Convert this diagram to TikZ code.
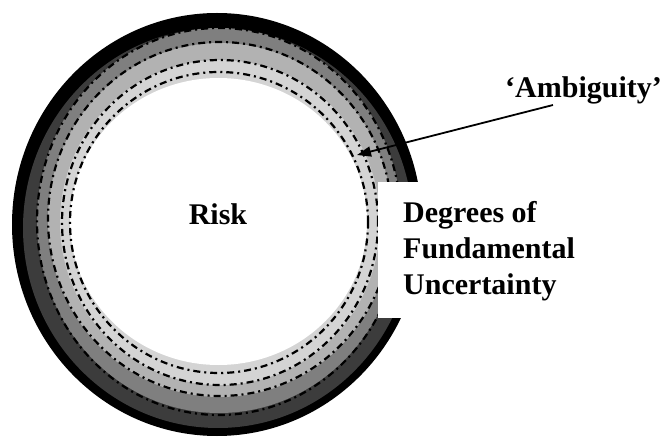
\documentclass[tikz,border=0pt]{standalone}
\usepackage{fontspec}
\setmainfont{Liberation Serif}
\usetikzlibrary{arrows.meta}
\definecolor{ringdark}{HTML}{3C3C3C}
\definecolor{ringmid}{HTML}{7F7F7F}
\definecolor{ringlight}{HTML}{B2B2B2}
\definecolor{ringpale}{HTML}{D4D4D4}

\begin{document}
\begin{tikzpicture}[x=1pt, y=-1pt,
        dashring/.style={line width=2.2pt, dash pattern=on 7pt off 4pt on 2pt off 4pt},
        label/.style={font=\fontsize{30}{36}\selectfont\bfseries, inner sep=0pt, text=black},
        pointer/.style={-{Triangle[length=14pt, width=10pt]}, line width=1.8pt}
    ]
        \useasboundingbox (0,0) rectangle (672,438);

        % rings, outside in
        \fill[black] (217,224.5) ellipse [x radius=205pt, y radius=211.5pt];
        \fill[ringdark] (218,228) ellipse [x radius=195pt, y radius=200pt];
        \fill[ringmid] (219,220.5) ellipse [x radius=182pt, y radius=192.5pt];
        \fill[ringlight] (220,220) ellipse [x radius=172pt, y radius=177pt];
        \fill[ringpale] (220,222.5) ellipse [x radius=160pt, y radius=162.5pt];
        \fill[white] (218.5,221.5) ellipse [x radius=148.5pt, y radius=143.5pt];

        \draw[dashring] (219,221.5) ellipse [x radius=182pt, y radius=193.5pt];
        \draw[dashring] (220,219) ellipse [x radius=172pt, y radius=177pt];
        \draw[dashring] (220,222.5) ellipse [x radius=158pt, y radius=162.5pt];
        \draw[dashring] (219,222.5) ellipse [x radius=149pt, y radius=150.5pt];

        \fill[white] (378,182) rectangle (672,318);

        \node[label, anchor=base] (risk) at (218,225) {Risk};
        \node[label, anchor=north west, align=left] (fund) at (403,201.5) {Degrees of\\Fundamental\\Uncertainty};
        \node[label, anchor=base west] (ambig) at (505,98) {‘Ambiguity’};

        \coordinate (ambstart) at (553,105);
        \coordinate (ambtip) at (357,155);
        \draw[pointer] (ambstart) -- (ambtip);
    \end{tikzpicture}
\end{document}
